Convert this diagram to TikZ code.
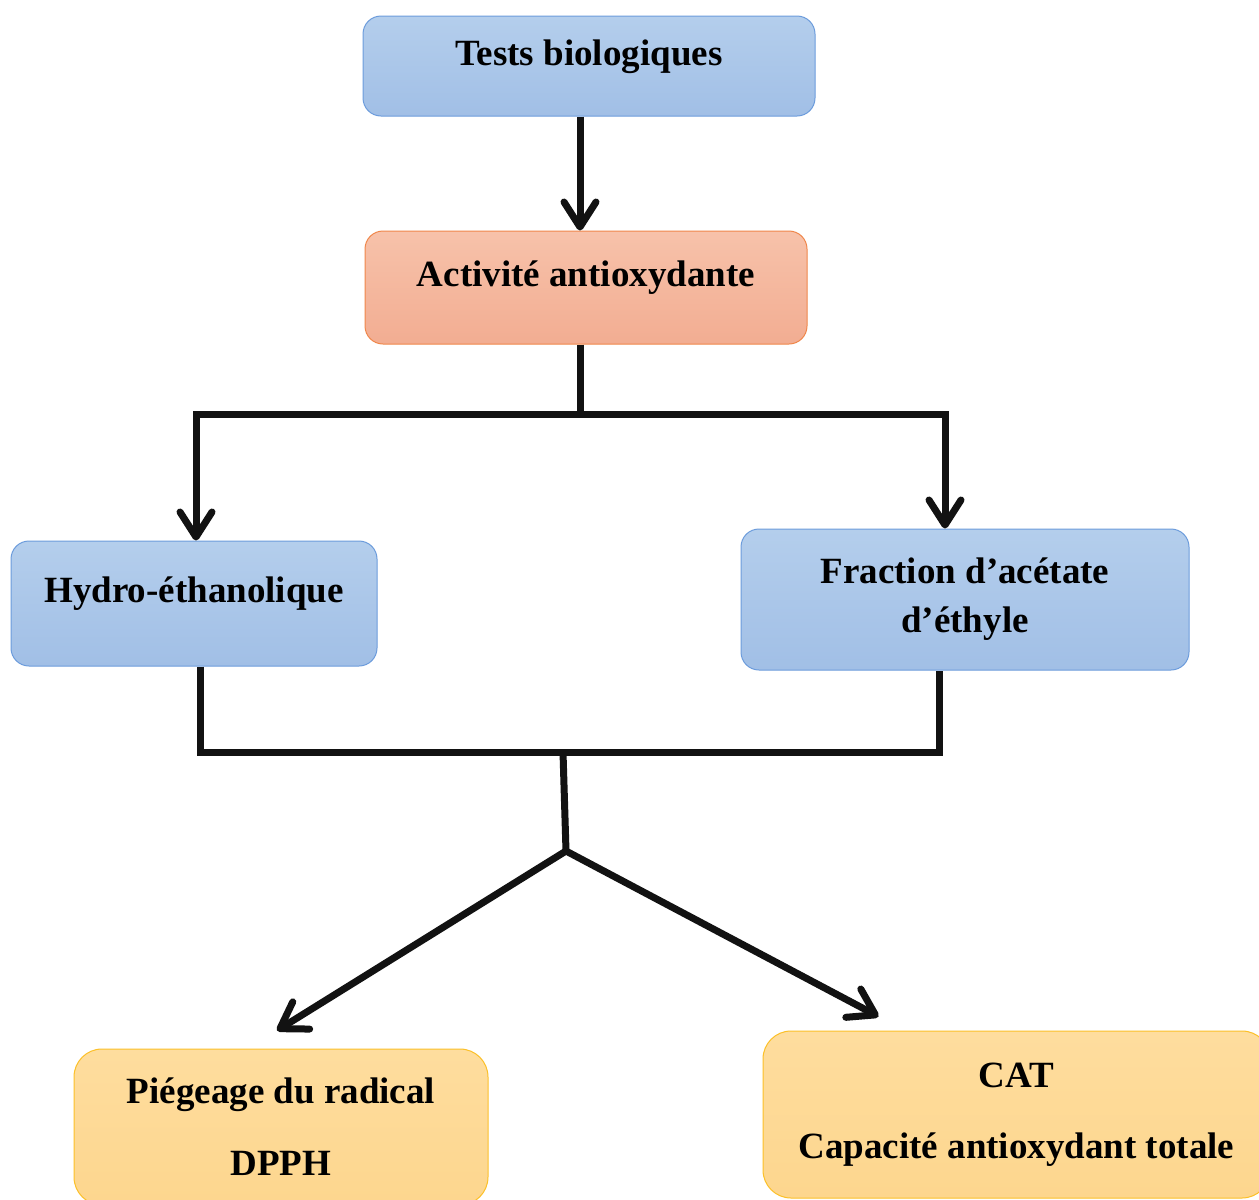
\documentclass[tikz,border=0pt]{standalone}
\usepackage{fontspec}
\setmainfont{Liberation Serif}
\usetikzlibrary{arrows.meta}
\definecolor{bluetop}{RGB}{180,206,236}
\definecolor{bluebot}{RGB}{161,191,230}
\definecolor{blueline}{RGB}{108,156,220}
\definecolor{saltop}{RGB}{247,194,170}
\definecolor{salbot}{RGB}{242,173,146}
\definecolor{salline}{RGB}{240,135,75}
\definecolor{yeltop}{RGB}{254,221,158}
\definecolor{yelbot}{RGB}{253,214,142}
\definecolor{yelline}{RGB}{252,192,40}
\tikzset{
  boxbase/.style={draw, line width=1pt, rounded corners=18pt, font=\bfseries\fontsize{37}{44}\selectfont, inner sep=0pt},
  oneline/.style={text height=26pt, text depth=28pt},
  bluebox/.style={boxbase, draw=blueline, top color=bluetop, bottom color=bluebot},
  salbox/.style={boxbase, draw=salline, top color=saltop, bottom color=salbot},
  yelbox/.style={boxbase, draw=yelline, top color=yeltop, bottom color=yelbot, rounded corners=28pt},
  conn/.style={line width=7pt, black!93},
  arr/.style={conn, -{Straight Barb[length=25pt,width=32pt,round]}}
}
\begin{document}
\begin{tikzpicture}[x=1pt,y=-1pt]
\clip (0,0) rectangle (1259,1200);
\fill[white] (0,0) rectangle (1259,1200);
\node[bluebox, oneline, minimum width=452pt, minimum height=100pt] (t) at (589,66) {Tests biologiques};
\node[salbox, oneline, minimum width=442pt, minimum height=113pt] (a) at (586,287.5) {Activité antioxydante};
\node[bluebox, oneline, minimum width=366pt, minimum height=125pt] (h) at (194,603.5) {Hydro-éthanolique};
\node[bluebox, align=center, font=\bfseries\fontsize{37}{49}\selectfont, minimum width=448pt, minimum height=141pt] (f) at (965,599.5) {Fraction d’acétate\\d’éthyle};
\node[yelbox, align=center, font=\bfseries\fontsize{37}{72}\selectfont, minimum width=414pt, minimum height=156pt] (p) at (281,1127) {Piégeage du radical\\DPPH};
\node[yelbox, align=center, font=\bfseries\fontsize{37}{71}\selectfont, minimum width=507pt, minimum height=167pt] (c) at (1016.5,1114.5) {CAT\\Capacité antioxydant totale};
\coordinate (j1) at (580,414);
\coordinate (j2) at (563,752);
\coordinate (j3) at (566,851);
\draw[arr] ([xshift=-9pt]t.south) -- ([xshift=-6pt]a.north);
\draw[conn] ([xshift=-6pt]a.south) -- (j1);
\draw[arr] (j1) -| ([xshift=2pt]h.north);
\draw[arr] (j1) -| ([xshift=-20pt]f.north);
\draw[conn] ([xshift=6pt]h.south) |- (j2) -| ([xshift=-26pt]f.south);
\draw[conn] (j2) -- (j3);
\draw[arr] (j3) -- ([xshift=-4pt,yshift=18pt]p.north);
\draw[arr] (j3) -- ([xshift=-138pt,yshift=14pt]c.north);
\end{tikzpicture}
\end{document}
